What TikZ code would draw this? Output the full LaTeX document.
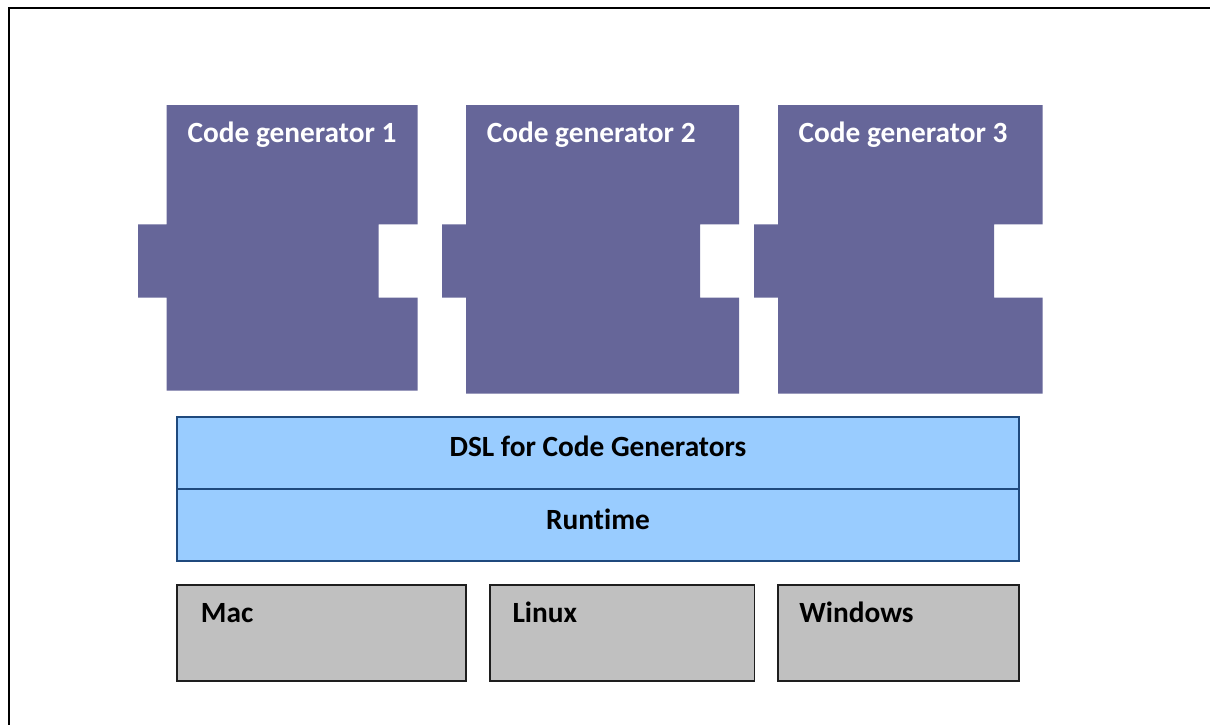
\documentclass[tikz,border=0pt]{standalone}
\usepackage{fontspec}
\setmainfont{Carlito}[Ligatures=NoCommon]

\definecolor{genpurple}{RGB}{102,102,153}
\definecolor{layerblue}{RGB}{153,204,255}
\definecolor{layerline}{RGB}{31,73,125}
\definecolor{osgray}{RGB}{192,192,192}
\definecolor{osline}{RGB}{30,30,30}

\begin{document}
\begin{tikzpicture}[x=0.75pt, y=-0.75pt,
    every node/.style={font=\fontsize{22}{26}\selectfont\bfseries}]

    % Styles
    \tikzstyle{gen_fill} = [fill=genpurple, draw=none]
    \tikzstyle{gen_text} = [text=white, anchor=base west, inner sep=0pt]
    \tikzstyle{layer_box} = [fill=layerblue, draw=layerline, line width=1.4pt,
        minimum width=631pt, minimum height=54pt, inner sep=0pt]
    \tikzstyle{os_box} = [fill=osgray, draw=osline, line width=1.4pt,
        minimum height=72pt, inner sep=0pt]
    \tikzstyle{plain_text} = [text=black, inner sep=0pt]

    % Page size and the cut frame (only top and left edges show)
    \useasboundingbox (0,0) rectangle (1210,725);
    \draw[line width=1.8pt] (1210,8) -- (9,8) -- (9,725);

    % Code generator puzzle pieces
    \fill[gen_fill] (166.7,105) -- (417.7,105) -- (417.7,224.3) -- (378.7,224.3)
        -- (378.7,297.7) -- (417.7,297.7) -- (417.7,390.7) -- (166.7,390.7)
        -- (166.7,297.7) -- (138,297.7) -- (138,224.3) -- (166.7,224.3) -- cycle;
    \fill[gen_fill] (466,105) -- (739,105) -- (739,224.3) -- (700,224.3)
        -- (700,297.7) -- (739,297.7) -- (739,393.7) -- (466,393.7)
        -- (466,297.7) -- (442,297.7) -- (442,224.3) -- (466,224.3) -- cycle;
    \fill[gen_fill] (778,105) -- (1042.7,105) -- (1042.7,224.3) -- (994,224.3)
        -- (994,297.7) -- (1042.7,297.7) -- (1042.7,393.7) -- (778,393.7)
        -- (778,297.7) -- (754,297.7) -- (754,224.3) -- (778,224.3) -- cycle;

    \node[gen_text] (gen1) at (187.3,142.5) {Code generator 1};
    \node[gen_text] (gen2) at (486.5,142.5) {Code generator 2};
    \node[gen_text] (gen3) at (798.3,142.5) {Code generator 3};

    % DSL and runtime layers
    \node[layer_box] (dsl) at (598,453.3) {};
    \node[layer_box] (runtime) at (598,525.1) {};
    \node[plain_text, anchor=base] (dsltext) at (598,456) {DSL for Code Generators};
    \node[plain_text, anchor=base] (runtimetext) at (598,529) {Runtime};

    % Platforms
    \node[os_box, minimum width=216.5pt] (mac) at (321.7,633.3) {};
    \node[os_box, minimum width=198.4pt] (linux) at (622.2,633.3) {};
    \node[os_box, minimum width=180.8pt] (windows) at (898.2,633.3) {};
    \node[plain_text, anchor=base west] (mactext) at (200.7,622.7) {Mac};
    \node[plain_text, anchor=base west] (linuxtext) at (512.3,622.7) {Linux};
    \node[plain_text, anchor=base west] (windowstext) at (799,622.7) {Windows};

\end{tikzpicture}
\end{document}
